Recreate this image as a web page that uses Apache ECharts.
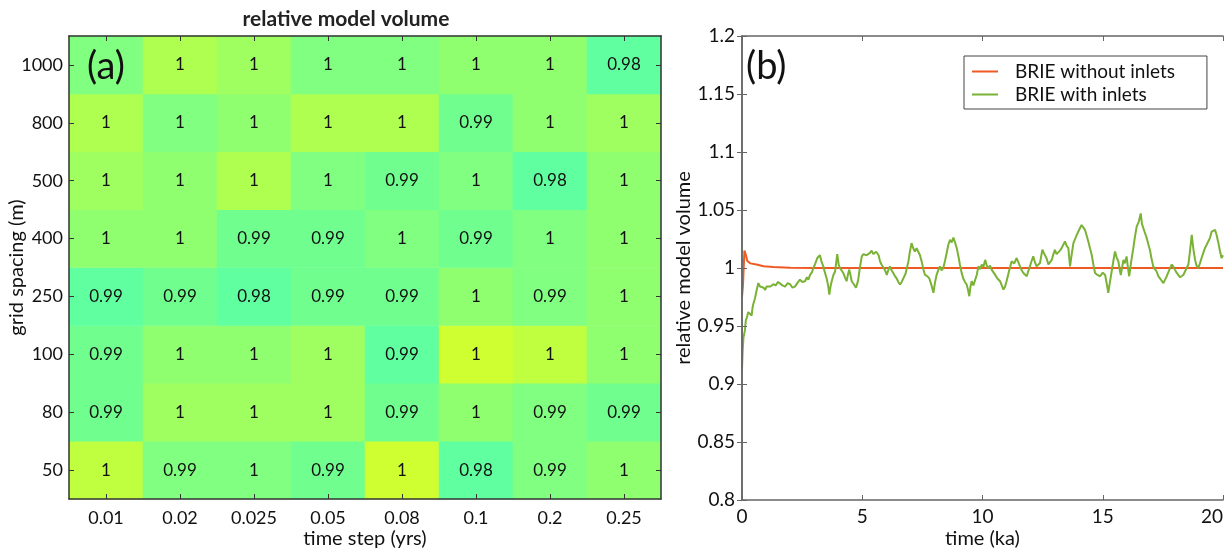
<!DOCTYPE html>
<html><head><meta charset="utf-8">
<script src="https://cdn.jsdelivr.net/npm/echarts@6/dist/echarts.min.js"></script>
<style>html,body{margin:0;padding:0;background:#fff}#c{width:1227px;height:554px}</style>
</head><body><div id="c"></div>
<script>
// ---------- panel (a) data ----------
const timeSteps = ['0.01', '0.02', '0.025', '0.05', '0.08', '0.1', '0.2', '0.25'];
const gridSpacings = ['50', '80', '100', '250', '400', '500', '800', '1000']; // bottom -> top
const vol1000 = [0.996, 1.0015, 1.000, 0.996, 0.9965, 0.998, 0.9982, 0.981];
const vol800  = [1.0015, 0.9962, 0.998, 1.0016, 1.0014, 0.989, 0.998, 1.000];
const vol500  = [1.000, 0.998, 1.0018, 0.996, 0.989, 0.9965, 0.981, 0.998];
const vol400  = [0.998, 0.998, 0.989, 0.989, 0.996, 0.9885, 0.996, 0.998];
const vol250  = [0.986, 0.989, 0.982, 0.989, 0.9895, 0.999, 0.993, 0.998];
const vol100  = [0.988, 0.998, 0.998, 1.000, 0.986, 1.0035, 1.0025, 0.998];
const vol80   = [0.988, 1.000, 1.000, 1.0006, 0.989, 0.998, 0.993, 0.989];
const vol50   = [1.0025, 0.993, 0.997, 0.989, 1.0035, 0.981, 0.993, 0.998];
const rowsBottomUp = [vol50, vol80, vol100, vol250, vol400, vol500, vol800, vol1000];
const hiddenLabelCell = [0, 7]; // covered by "(a)"

// ---------- panel (b) data ----------
const withoutInlets = [[0,0.975],[0.04,0.985],[0.1,1.015],[0.15,1.012],[0.22,1.006],[0.35,1.004],[0.6,1.003],[0.9,1.0015],[1.3,1.0008],[2,1.0002],[3,1.0],[20,1.0]];
const withInlets = [
[0,0.913],[0.03,0.93],[0.06,0.94],[0.12,0.946],[0.16,0.955],[0.2,0.957],[0.26,0.962],[0.33,0.961],[0.4,0.959],[0.44,0.966],[0.47,0.969],[0.54,0.974],[0.6,0.98],[0.68,0.987],[0.75,0.984],[0.82,0.9857],[0.9,0.983],[0.96,0.981],[1.02,0.984],[1.09,0.9857],[1.18,0.984],[1.3,0.986],[1.4,0.985],[1.5,0.988],[1.58,0.987],[1.68,0.985],[1.79,0.984],[1.9,0.987],[2.0,0.986],[2.1,0.983],[2.2,0.984],[2.3,0.987],[2.41,0.990],[2.5,0.988],[2.62,0.9886],[2.7,0.992],[2.76,0.99],[2.83,0.994],[2.9,0.996],[2.97,1.0],
[3.05,1.004],[3.13,1.0086],[3.2,1.007],[3.24,1.011],[3.3,1.006],[3.38,1.0014],[3.45,0.996],[3.52,0.991],[3.58,0.985],[3.63,0.977],[3.68,0.984],[3.73,0.9886],[3.8,0.994],[3.87,0.997],[3.92,1.005],[3.96,1.012],[4.02,1.003],[4.07,1.0],[4.14,0.998],[4.21,0.9957],[4.28,0.992],[4.35,0.9886],[4.4,0.994],[4.46,0.9986],[4.52,0.993],[4.56,0.9886],[4.65,0.986],[4.74,0.983],[4.8,0.987],[4.84,0.991],[4.9,1.0],[4.98,1.01],
[5.05,1.012],[5.11,1.0137],[5.18,1.011],[5.25,1.01],[5.32,1.013],[5.39,1.015],[5.46,1.012],[5.53,1.0114],[5.58,1.014],[5.63,1.0157],[5.68,1.011],[5.74,1.0057],[5.8,1.003],[5.88,1.0014],[5.95,0.998],[6.02,0.994],[6.08,0.998],[6.15,1.0014],[6.22,0.998],[6.29,0.9957],[6.36,0.993],[6.43,0.991],[6.5,0.988],[6.57,0.9857],[6.64,0.988],[6.71,0.987],[6.8,0.995],[6.92,1.0057],[6.98,1.014],
[7.05,1.0214],[7.12,1.017],[7.19,1.0143],[7.26,1.017],[7.33,1.0157],[7.4,1.011],[7.47,1.0057],[7.54,0.999],[7.61,0.994],[7.7,0.993],[7.79,0.991],[7.88,0.985],[7.96,0.9786],[8.02,0.987],[8.09,0.994],[8.16,0.998],[8.23,1.0014],[8.3,0.998],[8.37,1.0],[8.44,1.006],[8.51,1.0129],[8.58,1.02],[8.65,1.0243],[8.72,1.022],[8.79,1.0263],[8.86,1.022],[8.93,1.0171],
[9.0,1.01],[9.06,1.003],[9.13,0.996],[9.2,0.991],[9.27,0.988],[9.34,0.9857],[9.4,0.981],[9.45,0.9757],[9.5,0.984],[9.55,0.9886],[9.62,0.985],[9.69,0.9857],[9.76,0.994],[9.83,1.0014],[9.9,0.999],[9.97,1.003],[10.04,1.001],[10.11,1.007],[10.18,1.002],[10.24,1.0],[10.31,1.002],[10.38,0.9986],[10.45,0.997],[10.52,0.9943],[10.62,0.991],[10.73,0.9886],[10.8,0.985],[10.87,0.9814],[10.94,0.984],
[11.0,0.9886],[11.1,0.997],[11.21,1.0057],[11.32,1.004],[11.42,1.0086],[11.49,1.005],[11.56,1.0014],[11.63,0.998],[11.7,0.9957],[11.77,0.994],[11.84,0.9929],[11.9,0.997],[11.97,1.0014],[12.04,1.006],[12.11,1.01],[12.18,1.005],[12.25,1.0014],[12.32,1.003],[12.39,1.0043],[12.44,1.01],[12.49,1.0157],[12.55,1.013],[12.6,1.0129],[12.67,1.008],[12.74,1.003],[12.81,1.005],[12.88,1.007],[12.95,1.012],
[13.01,1.0157],[13.08,1.012],[13.15,1.0129],[13.22,1.015],[13.29,1.0171],[13.36,1.02],[13.43,1.0229],[13.5,1.019],[13.57,1.0171],[13.61,1.008],[13.64,1.0014],[13.71,1.012],[13.78,1.0214],[13.85,1.025],[13.92,1.0286],[14.02,1.033],[14.12,1.0371],[14.19,1.035],[14.26,1.0329],[14.33,1.028],[14.4,1.0229],[14.47,1.017],[14.54,1.0114],[14.61,1.003],[14.68,0.9957],[14.78,0.994],[14.89,0.9929],
[15.0,0.996],[15.1,0.994],[15.17,0.986],[15.23,0.9786],[15.3,0.988],[15.37,0.997],[15.44,1.006],[15.51,1.0143],[15.58,1.009],[15.65,1.0057],[15.7,0.999],[15.75,0.994],[15.8,1.0],[15.86,1.007],[15.92,1.004],[15.99,1.01],[16.05,1.0],[16.1,0.9929],[16.18,1.005],[16.27,1.0171],[16.34,1.027],[16.41,1.0357],[16.5,1.04],[16.58,1.0471],[16.63,1.038],[16.69,1.0343],[16.76,1.03],[16.83,1.0257],[16.9,1.02],[16.96,1.0157],
[17.03,1.008],[17.1,1.0014],[17.17,0.999],[17.24,0.997],[17.31,0.993],[17.38,0.991],[17.45,0.989],[17.52,0.987],[17.59,0.99],[17.66,0.9929],[17.76,0.998],[17.87,1.003],[17.94,1.001],[18.0,0.9986],[18.07,0.996],[18.14,0.994],[18.21,0.992],[18.28,0.991],[18.35,0.994],[18.42,0.997],[18.49,1.0],[18.56,1.003],[18.63,1.015],[18.7,1.0286],[18.77,1.016],[18.84,1.007],[18.9,1.002],[18.97,1.0],
[19.04,1.004],[19.11,1.0086],[19.18,1.013],[19.25,1.0171],[19.32,1.02],[19.39,1.0214],[19.46,1.026],[19.53,1.0314],[19.6,1.03],[19.67,1.0329],[19.74,1.028],[19.81,1.0214],[19.88,1.014],[19.94,1.0086],[20.0,1.011]
];

const FONT = 'Lato';
const heatData = [];
rowsBottomUp.forEach((row, yi) => row.forEach((v, xi) => heatData.push([xi, yi, v])));

const fmtNum = v => String(parseFloat(Number(v).toFixed(2)));

const chart = echarts.init(document.getElementById('c'), null, {renderer: 'canvas'});
const boxA = '#333', boxB = '#666';
const tickA = {show: true, inside: true, length: 5, alignWithLabel: true, lineStyle: {color: boxA, width: 1}};
const tickB = {show: true, inside: true, length: 5, lineStyle: {color: boxB, width: 1}};
const nameStyle = {fontSize: 20, color: '#111', fontFamily: FONT};

chart.setOption({
  animation: false,
  textStyle: {fontFamily: FONT},
  grid: [
    {left: 69, top: 36, width: 592, height: 468},
    {left: 742, top: 36, width: 481, height: 467}
  ],
  graphic: [
    {type: 'text', z: 100, x: 346, y: 19, style: {text: 'relative model volume', font: 'bold 21px ' + FONT, fill: '#222', align: 'center', verticalAlign: 'middle'}},
    {type: 'text', z: 100, x: 87, y: 67, style: {text: '(a)', font: '38px ' + FONT, fill: '#111', verticalAlign: 'middle'}},
    {type: 'text', z: 100, x: 746, y: 67, style: {text: '(b)', font: '38px ' + FONT, fill: '#111', verticalAlign: 'middle'}}
  ],
  xAxis: [
    {type: 'category', gridIndex: 0, data: timeSteps, position: 'bottom', z: 10,
     name: 'time step (yrs)', nameLocation: 'middle', nameGap: 30, nameMoveOverlap: false, nameTextStyle: nameStyle,
     axisLine: {lineStyle: {color: boxA, width: 1.5}}, axisTick: tickA,
     axisLabel: {fontSize: 18, color: '#111', margin: 10, fontFamily: FONT}, splitLine: {show: false}},
    {type: 'category', gridIndex: 0, data: timeSteps, position: 'top', z: 10,
     axisLine: {lineStyle: {color: boxA, width: 1.5}}, axisTick: tickA, axisLabel: {show: false}},
    {type: 'value', gridIndex: 1, min: 0, max: 20, interval: 5, position: 'bottom', z: 10,
     name: 'time (ka)', nameLocation: 'middle', nameGap: 29, nameMoveOverlap: false, nameTextStyle: nameStyle,
     axisLine: {lineStyle: {color: boxB, width: 1.5}}, axisTick: tickB,
     axisLabel: {fontSize: 19, color: '#111', margin: 7, alignMaxLabel: 'right', fontFamily: FONT}, splitLine: {show: false}},
    {type: 'value', gridIndex: 1, min: 0, max: 20, interval: 5, position: 'top', z: 10,
     axisLine: {lineStyle: {color: boxB, width: 1.5}}, axisTick: tickB, axisLabel: {show: false}, splitLine: {show: false}}
  ],
  yAxis: [
    {type: 'category', gridIndex: 0, data: gridSpacings, position: 'left', z: 10,
     name: 'grid spacing (m)', nameLocation: 'middle', nameGap: 42, nameMoveOverlap: false, nameTextStyle: nameStyle,
     axisLine: {lineStyle: {color: boxA, width: 1.5}}, axisTick: tickA,
     axisLabel: {fontSize: 18, color: '#111', margin: 6, fontFamily: FONT}, splitLine: {show: false}},
    {type: 'category', gridIndex: 0, data: gridSpacings, position: 'right', z: 10,
     axisLine: {lineStyle: {color: boxA, width: 1.5}}, axisTick: tickA, axisLabel: {show: false}},
    {type: 'value', gridIndex: 1, min: 0.8, max: 1.2, interval: 0.05, position: 'left', z: 10,
     name: 'relative model volume', nameLocation: 'middle', nameGap: 48, nameMoveOverlap: false, nameTextStyle: nameStyle,
     axisLine: {lineStyle: {color: boxB, width: 1.5}}, axisTick: tickB,
     axisLabel: {fontSize: 19, color: '#111', margin: 7, formatter: fmtNum, fontFamily: FONT}, splitLine: {show: false}},
    {type: 'value', gridIndex: 1, min: 0.8, max: 1.2, interval: 0.05, position: 'right', z: 10,
     axisLine: {lineStyle: {color: boxB, width: 1.5}}, axisTick: tickB, axisLabel: {show: false}, splitLine: {show: false}}
  ],
  visualMap: {
    type: 'piecewise', show: false, seriesIndex: 0, dimension: 2,
    pieces: [
      {lt: 0.9865, color: '#60ff9f'},
      {gte: 0.9865, lt: 0.992, color: '#70ff8f'},
      {gte: 0.992, lt: 0.9972, color: '#80ff80'},
      {gte: 0.9972, lt: 0.9992, color: '#8fff70'},
      {gte: 0.9992, lt: 1.001, color: '#9fff60'},
      {gte: 1.001, lt: 1.002, color: '#afff50'},
      {gte: 1.002, lt: 1.003, color: '#bfff40'},
      {gte: 1.003, color: '#cfff30'}
    ]
  },
  legend: {
    orient: 'vertical', left: 964, top: 56,
    borderColor: '#444', borderWidth: 1, padding: [6, 32, 5, 8], itemGap: 4,
    itemWidth: 26, itemHeight: 2, icon: 'rect',
    textStyle: {fontSize: 19, color: '#111', fontFamily: FONT, padding: [0, 0, 0, 12]},
    data: ['BRIE without inlets', 'BRIE with inlets']
  },
  series: [
    {type: 'heatmap', xAxisIndex: 0, yAxisIndex: 0, data: heatData,
     label: {show: true, fontSize: 17, color: '#111', fontFamily: FONT,
       formatter: p => (p.data[0] === hiddenLabelCell[0] && p.data[1] === hiddenLabelCell[1]) ? '' : fmtNum(p.data[2])},
     emphasis: {disabled: true}},
    {type: 'line', name: 'BRIE without inlets', xAxisIndex: 2, yAxisIndex: 2, data: withoutInlets,
     showSymbol: false, symbol: 'none', lineStyle: {color: '#ef5a24', width: 2}, itemStyle: {color: '#ef5a24'}, z: 3},
    {type: 'line', name: 'BRIE with inlets', xAxisIndex: 2, yAxisIndex: 2, data: withInlets,
     showSymbol: false, symbol: 'none', lineStyle: {color: '#79b235', width: 2}, itemStyle: {color: '#79b235'}, z: 4}
  ]
});
</script></body></html>
